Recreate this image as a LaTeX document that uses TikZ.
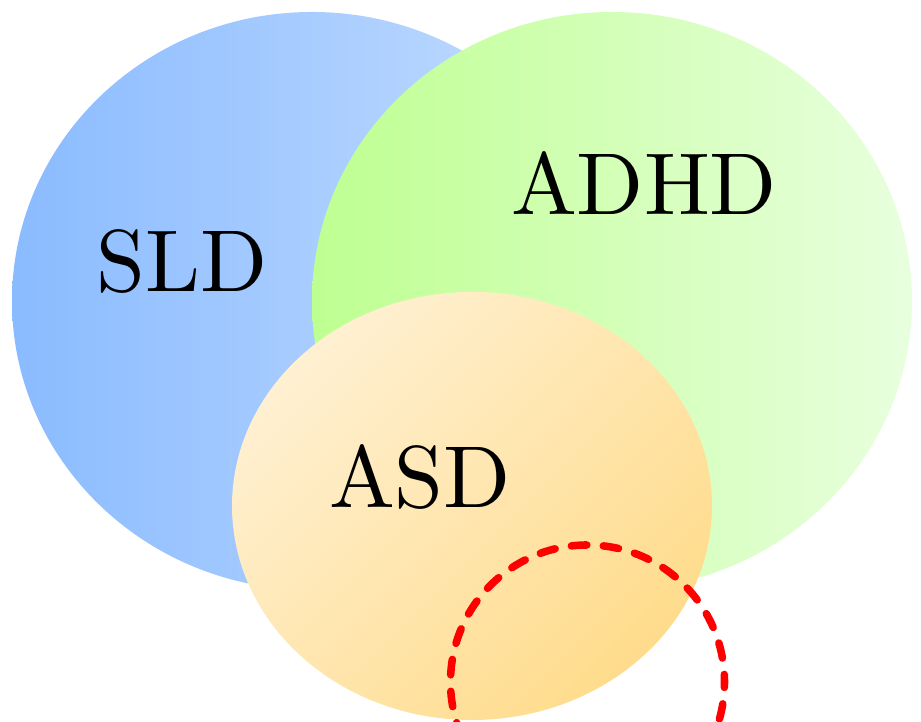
\documentclass[tikz,border=0pt]{standalone}
\usepackage{fontspec}
\usepackage{tikz}
\usetikzlibrary{calc}

\newfontfamily\setfont{lmroman10-regular}[Extension = .otf]

\definecolor{sldleft}{RGB}{138,187,255}
\definecolor{sldright}{RGB}{198,222,255}
\definecolor{adhdleft}{RGB}{190,255,145}
\definecolor{adhdright}{RGB}{232,255,222}
\definecolor{asdlight}{RGB}{255,240,210}
\definecolor{asddark}{RGB}{255,220,140}

\tikzset{
	setlabel/.style = {anchor = base, inner sep = 0pt, font = \setfont\fontsize{50}{60}\selectfont}
}

\begin{document}
\begin{tikzpicture}[x = 0.02cm, y = 0.02cm]
	
	\clip (0,0) rectangle (921,722);
	
	% SLD ellipse
	\shade[left color = sldleft, right color = sldright] (312,421) ellipse (300 and 289);
	
	% ADHD ellipse
	\shade[left color = adhdleft, right color = adhdright] (612,421) ellipse (300 and 289);
	
	% ASD ellipse
	\shade[top color = asdlight, bottom color = asddark, shading angle = 45] (472,216) ellipse (240 and 214);
	
	% dashed circle
	\draw[red, line width = 4.3pt, line cap = round, dash pattern = on 8.8pt off 9.4pt, dash phase = 4.5pt] (587.5,40) circle (137);
	
	\node[setlabel] (sld) at (182,430) {SLD};
	\node[setlabel] (adhd) at (644,507) {ADHD};
	\node[setlabel] (asd) at (420,214) {ASD};
	
\end{tikzpicture}
\end{document}
